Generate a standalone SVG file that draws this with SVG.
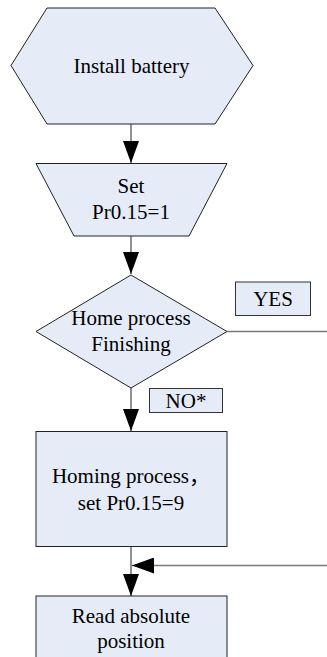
<svg xmlns="http://www.w3.org/2000/svg" width="327" height="657" viewBox="0 0 327 657">
<style>
.shape{fill:#e6ecf7;stroke:#222;stroke-width:1}
.lbl{fill:#e6ecf7;stroke:#333;stroke-width:1}
.t{font-family:"Liberation Serif","Times New Roman","Noto Sans CJK SC",serif;font-size:21px;fill:#000;text-anchor:middle}
.c{stroke:#555;stroke-width:1.3;fill:none}
.h{stroke:#7a7a7a;stroke-width:1.6;fill:none}
</style>
<defs>
<marker id="ah" viewBox="0 0 22 16" refX="22" refY="8" markerWidth="22" markerHeight="16" markerUnits="userSpaceOnUse" orient="auto">
<path d="M0,0 L22,8 L0,16 Z" fill="#000"/>
</marker>
</defs>
<rect width="327" height="657" fill="#fff"/>
<g id="connectors">
<line class="c" x1="131" y1="124" x2="131" y2="163" marker-end="url(#ah)"/>
<line class="c" x1="131" y1="236" x2="131" y2="274" marker-end="url(#ah)"/>
<line class="c" x1="131" y1="388" x2="131" y2="431" marker-end="url(#ah)"/>
<line class="c" x1="131" y1="547" x2="131" y2="596" marker-end="url(#ah)"/>
<line class="h" x1="227" y1="331.5" x2="327" y2="331.5"/>
<line class="h" x1="327" y1="565.5" x2="154" y2="565.5"/>
<line class="c" x1="154" y1="565.5" x2="132" y2="565.5" marker-end="url(#ah)"/>
</g>
<g id="install">
<polygon class="shape" points="47,8 215,8 253,65.5 215,124 47,124 11,65.5"/>
<text class="t" x="131.5" y="73">Install battery</text>
</g>
<g id="set1">
<polygon class="shape" points="36,163.5 227,163.5 189,236 74,236"/>
<text class="t" x="131" y="193">Set</text>
<text class="t" x="131" y="219">Pr0.15=1</text>
</g>
<g id="decision">
<polygon class="shape" points="131,275 227,331.5 131,388 36,331.5"/>
<text class="t" x="131" y="325">Home process</text>
<text class="t" x="131" y="350.5">Finishing</text>
</g>
<g id="yes">
<rect class="lbl" x="235.5" y="282" width="75" height="33.5"/>
<text class="t" x="273" y="306">YES</text>
</g>
<g id="no">
<rect class="lbl" x="149.5" y="388.5" width="73" height="24"/>
<text class="t" x="186" y="407.5">NO*</text>
</g>
<g id="homing">
<rect class="shape" x="36" y="431.5" width="191" height="115"/>
<text class="t" x="131" y="483">Homing process，</text>
<text class="t" x="131" y="510">set Pr0.15=9</text>
</g>
<g id="read">
<rect class="shape" x="36" y="596" width="191" height="80"/>
<text class="t" x="131" y="623">Read absolute</text>
<text class="t" x="131" y="648">position</text>
</g>
</svg>
